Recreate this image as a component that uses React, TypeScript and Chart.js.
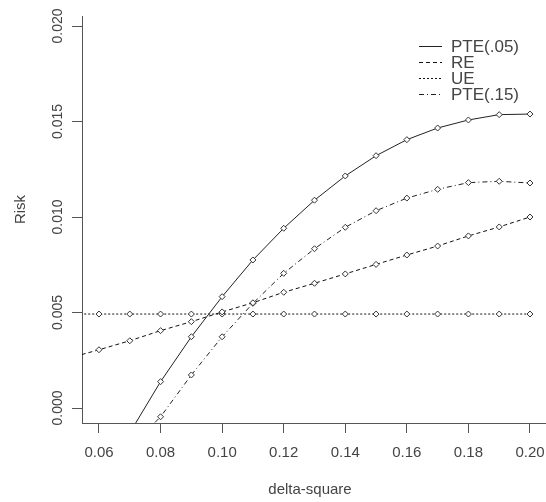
import { useEffect, useRef } from "react";
import { Chart, registerables } from "chart.js";

Chart.register(...registerables);

// ---- data ----
const xValues = [0.05, 0.06, 0.07, 0.08, 0.09, 0.1, 0.11, 0.12, 0.13, 0.14, 0.15, 0.16, 0.17, 0.18, 0.19, 0.2];
const pte05 = [null, null, -0.0013, 0.00138, 0.00373, 0.00583, 0.00775, 0.00941, 0.01088, 0.01215, 0.01321, 0.01405, 0.01466, 0.01508, 0.01536, 0.01539];
const re = [0.0026, 0.00305, 0.00352, 0.00405, 0.00452, 0.00503, 0.00551, 0.00606, 0.00653, 0.00702, 0.00752, 0.00801, 0.00848, 0.00901, 0.00948, 0.01];
const ue = [0.00492, 0.00492, 0.00492, 0.00492, 0.00492, 0.00492, 0.00492, 0.00492, 0.00492, 0.00492, 0.00492, 0.00492, 0.00492, 0.00492, 0.00492, 0.00492];
const pte15 = [null, null, -0.0021, -0.00046, 0.00173, 0.00373, 0.00548, 0.00705, 0.00834, 0.00946, 0.01033, 0.01099, 0.01145, 0.0118, 0.01187, 0.01178];
const seriesNames = ["PTE(.05)", "RE", "UE", "PTE(.15)"];
const xTicks = [0.06, 0.08, 0.1, 0.12, 0.14, 0.16, 0.18, 0.2];
const yTicks = [0, 0.005, 0.01, 0.015, 0.02];
const xTitle = "delta-square";
const yTitle = "Risk";

const FONT = '"Liberation Sans", Arial, sans-serif';
const TEXT = "#444444";
const AXIS = "#555555";

const toPoints = (arr: (number | null)[]) => xValues.map((x, i) => ({ x, y: arr[i] }));

const decor = {
  id: "rDecor",
  afterDraw(chart: any) {
    const ctx = chart.ctx as CanvasRenderingContext2D;
    const ys = chart.scales.y;
    const xs = chart.scales.x;
    const area = chart.chartArea;
    ctx.save();
    ctx.fillStyle = TEXT;
    ctx.textAlign = "center";
    ctx.textBaseline = "alphabetic";
    // x tick labels
    ctx.font = `15px ${FONT}`;
    xs.ticks.forEach((t: any) => {
      const px = xs.getPixelForValue(t.value);
      ctx.fillText(Number(t.value).toFixed(2), px, area.bottom + 34);
    });
    // rotated y tick labels
    ctx.font = `14px ${FONT}`;
    ys.ticks.forEach((t: any) => {
      const py = ys.getPixelForValue(t.value);
      ctx.save();
      ctx.translate(area.left - 20, py);
      ctx.rotate(-Math.PI / 2);
      ctx.fillText(Number(t.value).toFixed(3), 0, 0);
      ctx.restore();
    });
    // y title
    ctx.font = `15px ${FONT}`;
    ctx.save();
    ctx.translate(area.left - 57, (area.top + area.bottom) / 2 - 10);
    ctx.rotate(-Math.PI / 2);
    ctx.fillText(yTitle, 0, 0);
    ctx.restore();
    // x title
    ctx.fillText(xTitle, (area.left + area.right) / 2 - 4, area.bottom + 71);
    // legend
    ctx.font = `17px ${FONT}`;
    ctx.textAlign = "left";
    chart.data.datasets.forEach((ds: any, i: number) => {
      const base = area.top + 36 + i * 16;
      const lx = area.right - 127;
      ctx.save();
      ctx.strokeStyle = ds.borderColor;
      ctx.lineWidth = 1;
      ctx.setLineDash(ds.borderDash || []);
      ctx.beginPath();
      ctx.moveTo(lx, Math.round(base - 6) + 0.5);
      ctx.lineTo(lx + 23, Math.round(base - 6) + 0.5);
      ctx.stroke();
      ctx.restore();
      ctx.fillText(ds.label, lx + 32, base);
    });
    ctx.restore();
  },
};

export default function App() {
  const ref = useRef<HTMLCanvasElement | null>(null);
  useEffect(() => {
    document.body.style.margin = "0";
    if (!ref.current) return;
    const mk = (label: string, arr: (number | null)[], color: string, dash: number[]) => ({
      label,
      data: toPoints(arr),
      borderColor: color,
      borderWidth: 1,
      borderDash: dash,
      pointStyle: "rectRot",
      pointRadius: 3,
      pointBorderColor: "#333333",
      pointBackgroundColor: "#ffffff",
      pointBorderWidth: 1,
      tension: 0,
      fill: false,
    });
    const chart = new Chart(ref.current, {
      type: "line",
      data: {
        datasets: [
          mk(seriesNames[0], pte05, "#222222", []),
          mk(seriesNames[1], re, "#111111", [4, 3]),
          mk(seriesNames[2], ue, "#111111", [2, 2]),
          mk(seriesNames[3], pte15, "#222222", [5, 3, 1, 3]),
        ] as any,
      },
      options: {
        animation: false,
        responsive: false,
        maintainAspectRatio: false,
        layout: { autoPadding: false, padding: { top: 16, left: 0, right: 0, bottom: 0 } },
        plugins: { legend: { display: false }, tooltip: { enabled: false } },
        scales: {
          x: {
            type: "linear",
            min: 0.05448,
            max: 0.2052,
            afterBuildTicks: (s: any) => {
              s.ticks = xTicks.map((v) => ({ value: v }));
            },
            afterFit: (s: any) => {
              s.height = 79;
            },
            grid: { display: true, drawOnChartArea: false, drawTicks: true, tickLength: 10, color: AXIS, lineWidth: 1 },
            border: { display: true, color: AXIS, width: 1 },
            ticks: { display: false, autoSkip: false },
          },
          y: {
            type: "linear",
            min: -0.000785,
            max: 0.020524,
            afterBuildTicks: (s: any) => {
              s.ticks = yTicks.map((v) => ({ value: v }));
            },
            afterFit: (s: any) => {
              s.width = 82;
            },
            grid: { display: true, drawOnChartArea: false, drawTicks: true, tickLength: 10, color: AXIS, lineWidth: 1 },
            border: { display: true, color: AXIS, width: 1 },
            ticks: { display: false, autoSkip: false },
          },
        },
      } as any,
      plugins: [decor],
    });
    return () => chart.destroy();
  }, []);
  return <canvas ref={ref} width={546} height={502} style={{ display: "block" }} />;
}
